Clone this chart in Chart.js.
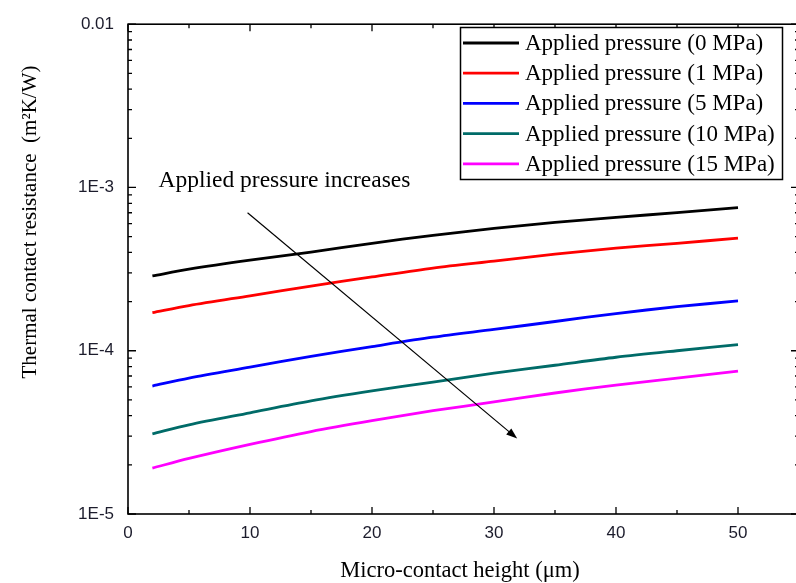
<!DOCTYPE html>
<html>
<head>
<meta charset="utf-8">
<style>
  html, body { margin: 0; padding: 0; background: #fff; overflow: hidden; }
  #wrap { width: 800px; height: 583px; }
</style>
<script src="https://cdn.jsdelivr.net/npm/chart.js@4.4.1/dist/chart.umd.min.js"></script>
</head>
<body>
<div id="wrap"><canvas id="myChart" width="800" height="583"></canvas></div>
<script>
// micro-contact height (um)
const heights = [2, 5, 10, 15, 20, 25, 30, 35, 40, 45, 50];
// thermal contact resistance (m2K/W)
const p0 = [2.87e-4, 3.16e-4, 3.59e-4, 4.02e-4, 4.55e-4, 5.09e-4, 5.61e-4, 6.11e-4, 6.55e-4, 7.02e-4, 7.53e-4];
const p1 = [1.71e-4, 1.89e-4, 2.17e-4, 2.49e-4, 2.83e-4, 3.21e-4, 3.54e-4, 3.90e-4, 4.25e-4, 4.55e-4, 4.89e-4];
const p5 = [6.08e-5, 6.80e-5, 7.93e-5, 9.24e-5, 1.06e-4, 1.21e-4, 1.35e-4, 1.51e-4, 1.69e-4, 1.86e-4, 2.02e-4];
const p10 = [3.10e-5, 3.52e-5, 4.17e-5, 4.93e-5, 5.67e-5, 6.43e-5, 7.29e-5, 8.15e-5, 9.12e-5, 1.00e-4, 1.09e-4];
const p15 = [1.91e-5, 2.19e-5, 2.67e-5, 3.20e-5, 3.73e-5, 4.29e-5, 4.86e-5, 5.51e-5, 6.16e-5, 6.80e-5, 7.50e-5];

const seriesLabels = [
  "Applied pressure (0 MPa)",
  "Applied pressure (1 MPa)",
  "Applied pressure (5 MPa)",
  "Applied pressure (10 MPa)",
  "Applied pressure (15 MPa)",
];
const colors = ["#000000", "#ff0000", "#0000ff", "#006b68", "#ff00ff"];

const xTicks = [0, 10, 20, 30, 40, 50];
const yTicks = [1e-5, 1e-4, 1e-3, 1e-2];
const yTickLabels = ["1E-5", "1E-4", "1E-3", "0.01"];

// annotation (data coordinates)
const noteText = "Applied pressure increases";
const notePos = [2.5, 1.0e-3];
const arrowFrom = [9.8, 7.0e-4];
const arrowTo = [31.9, 2.9e-5];

const serif = '"Liberation Serif", "Times New Roman", serif';
const sans = '"Liberation Sans", Arial, sans-serif';

const toPts = (ys) => heights.map((h, i) => ({ x: h, y: ys[i] }));

const extras = {
  id: "extras",
  afterDraw(chart) {
    const { ctx, chartArea: a } = chart;
    const xs = chart.scales.x, ys = chart.scales.y;
    ctx.save();

    // frame
    ctx.strokeStyle = "#000";
    ctx.lineWidth = 1.6;
    ctx.strokeRect(a.left, a.top, a.right - a.left, a.bottom - a.top);

    // inward ticks
    ctx.lineWidth = 1.3;
    ctx.beginPath();
    for (let v = 0; v <= 55; v += 5) {
      const px = xs.getPixelForValue(v);
      const len = v % 10 === 0 ? 7 : 4;
      ctx.moveTo(px, a.bottom); ctx.lineTo(px, a.bottom - len);
      ctx.moveTo(px, a.top); ctx.lineTo(px, a.top + len);
    }
    for (let d = -5; d <= -2; d++) {
      for (let m = 1; m <= 9; m++) {
        const v = m * Math.pow(10, d);
        if (v > 1e-2 * 1.0001) break;
        const py = ys.getPixelForValue(v);
        const len = m === 1 ? 8 : 4;
        ctx.moveTo(a.left, py); ctx.lineTo(a.left + len, py);
        ctx.moveTo(a.right, py); ctx.lineTo(a.right - len, py);
      }
    }
    ctx.stroke();

    // axis titles
    ctx.fillStyle = "#000";
    ctx.font = "22.5px " + serif;
    ctx.textAlign = "center";
    ctx.textBaseline = "middle";
    ctx.fillText("Micro-contact height (\u03bcm)", 460, 571);
    ctx.save();
    ctx.translate(30, 222);
    ctx.rotate(-Math.PI / 2);
    ctx.font = "21px " + serif;
    ctx.fillText("Thermal contact resistance  (m\u00b2K/W)", 0, 0);
    ctx.restore();

    // annotation text + arrow
    ctx.font = "23.5px " + serif;
    ctx.textAlign = "left";
    ctx.textBaseline = "alphabetic";
    ctx.fillText(noteText, xs.getPixelForValue(notePos[0]), ys.getPixelForValue(notePos[1]));
    const x1 = xs.getPixelForValue(arrowFrom[0]), y1 = ys.getPixelForValue(arrowFrom[1]);
    const x2 = xs.getPixelForValue(arrowTo[0]), y2 = ys.getPixelForValue(arrowTo[1]);
    const ang = Math.atan2(y2 - y1, x2 - x1);
    ctx.lineWidth = 1.2;
    ctx.beginPath();
    ctx.moveTo(x1, y1);
    ctx.lineTo(x2 - 8 * Math.cos(ang), y2 - 8 * Math.sin(ang));
    ctx.stroke();
    ctx.beginPath();
    ctx.moveTo(x2, y2);
    ctx.lineTo(x2 - 11 * Math.cos(ang) + 4 * Math.sin(ang), y2 - 11 * Math.sin(ang) - 4 * Math.cos(ang));
    ctx.lineTo(x2 - 11 * Math.cos(ang) - 4 * Math.sin(ang), y2 - 11 * Math.sin(ang) + 4 * Math.cos(ang));
    ctx.closePath();
    ctx.fill();

    // legend box
    ctx.fillStyle = "#fff";
    ctx.fillRect(460, 27, 322, 152);
    ctx.strokeStyle = "#000";
    ctx.lineWidth = 1.5;
    ctx.strokeRect(460.5, 27.5, 322, 152);
    ctx.font = "23px " + serif;
    ctx.textBaseline = "middle";
    chart.data.datasets.forEach((ds, i) => {
      const cy = 43 + i * 30.2;
      ctx.strokeStyle = ds.borderColor;
      ctx.lineWidth = 2.8;
      ctx.beginPath();
      ctx.moveTo(463, cy); ctx.lineTo(519, cy);
      ctx.stroke();
      ctx.fillStyle = "#000";
      ctx.fillText(ds.label, 525, cy + 1);
    });
    ctx.restore();
  },
};

new Chart(document.getElementById("myChart"), {
  type: "line",
  data: {
    datasets: [p0, p1, p5, p10, p15].map((ys, i) => ({
      label: seriesLabels[i],
      data: toPts(ys),
      borderColor: colors[i],
      backgroundColor: colors[i],
      borderWidth: 2.8,
      pointRadius: 0,
      tension: 0.3,
    })),
  },
  options: {
    responsive: false,
    animation: false,
    devicePixelRatio: 1,
    layout: { padding: { top: 20, right: 1, left: 0, bottom: 0 } },
    plugins: { legend: { display: false }, tooltip: { enabled: false } },
    scales: {
      x: {
        type: "linear",
        min: 0,
        max: 55,
        grid: { display: false, drawTicks: false },
        border: { display: false },
        afterBuildTicks: (s) => { s.ticks = xTicks.map((v) => ({ value: v })); },
        afterFit: (s) => { s.height = 69; },
        ticks: {
          padding: 9,
          autoSkip: false,
          maxRotation: 0,
          color: "#1c1c2c",
          font: { family: sans, size: 17 },
        },
      },
      y: {
        type: "logarithmic",
        min: 1e-5,
        max: 1e-2,
        grid: { display: false, drawTicks: false },
        border: { display: false },
        afterBuildTicks: (s) => { s.ticks = yTicks.map((v) => ({ value: v })); },
        afterFit: (s) => { s.width = 128; },
        ticks: {
          padding: 14,
          autoSkip: false,
          color: "#1c1c2c",
          font: { family: sans, size: 17 },
          callback: (v) => {
            const i = yTicks.findIndex((t) => Math.abs(t - v) / t < 1e-6);
            return i >= 0 ? yTickLabels[i] : "";
          },
        },
      },
    },
  },
  plugins: [extras],
});
</script>
</body>
</html>
